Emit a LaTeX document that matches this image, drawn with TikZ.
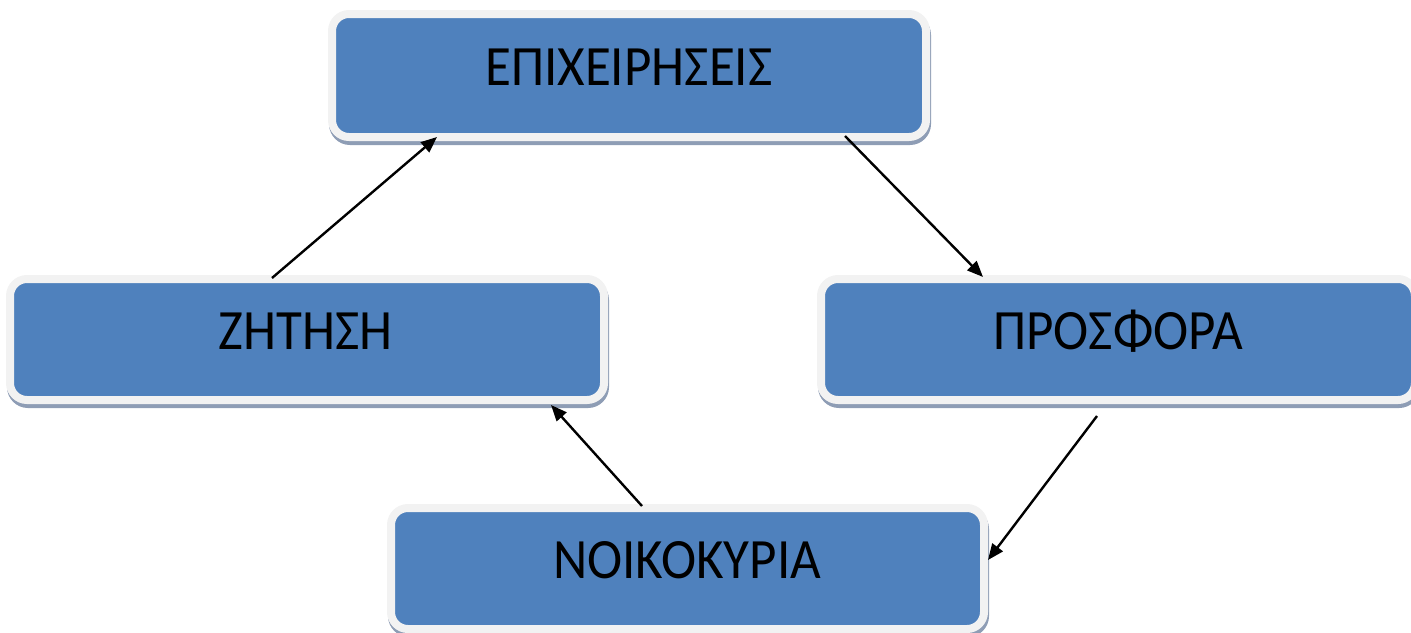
\documentclass[tikz,border=0pt]{standalone}
\usepackage{fontspec}
\setmainfont[FakeStretch=0.93]{Carlito}
\usetikzlibrary{arrows.meta,calc}
\definecolor{boxblue}{HTML}{4F81BD}
\definecolor{boxrim}{HTML}{F2F2F2}
\definecolor{shadowc}{HTML}{8E9DB5}
\tikzset{
  box/.style={rectangle, rounded corners=17pt, fill=boxblue, draw=boxrim, line width=8pt, inner sep=0pt},
  boxshadow/.style={rectangle, rounded corners=17pt, fill=shadowc, draw=shadowc, line width=8pt, inner sep=0pt},
  lbl/.style={inner sep=0pt, font=\fontsize{57}{60}\selectfont, text=black},
  arr/.style={line width=2.4pt, -{Triangle[length=16pt,width=13pt]}}
}
\begin{document}
\begin{tikzpicture}[x=1pt,y=-1pt]
\useasboundingbox (0,0) rectangle (1411,632);
% shadows
\node[boxshadow, minimum width=594pt, minimum height=123pt] (s1) at (630,79.5) {};
\node[boxshadow, minimum width=594pt, minimum height=121pt] (s2) at (308,343.5) {};
\node[boxshadow, minimum width=594pt, minimum height=121pt] (s3) at (1119,343.5) {};
\node[boxshadow, minimum width=593pt, minimum height=121pt] (s4) at (688.5,572.5) {};
% boxes
\node[box, minimum width=594pt, minimum height=123pt] (epix) at (629,75.5) {};
\node[box, minimum width=594pt, minimum height=121pt] (zit) at (307,339.5) {};
\node[box, minimum width=594pt, minimum height=121pt] (pros) at (1118,339.5) {};
\node[box, minimum width=593pt, minimum height=121pt] (noik) at (687.5,568.5) {};
% labels
\node[lbl] (t1) at (629,67) {ΕΠΙΧΕΙΡΗΣΕΙΣ};
\node[lbl] (t2) at (306,331) {ΖΗΤΗΣΗ};
\node[lbl] (t3) at (1118,331) {ΠΡΟΣΦΟΡΑ};
\node[lbl] (t4) at (687,560) {ΝΟΙΚΟΚΥΡΙΑ};
% arrow end points
\coordinate (a1s) at (272,278);
\coordinate (a1e) at (437,137);
\coordinate (a2s) at (845,136);
\coordinate (a2e) at (983,277);
\coordinate (a3s) at (1097,416);
\coordinate (a3e) at (988,560);
\coordinate (a4s) at (642,506);
\coordinate (a4e) at (551,405);
\draw[arr] (a1s) -- (a1e);
\draw[arr] (a2s) -- (a2e);
\draw[arr] (a3s) -- (a3e);
\draw[arr] (a4s) -- (a4e);
\end{tikzpicture}
\end{document}
